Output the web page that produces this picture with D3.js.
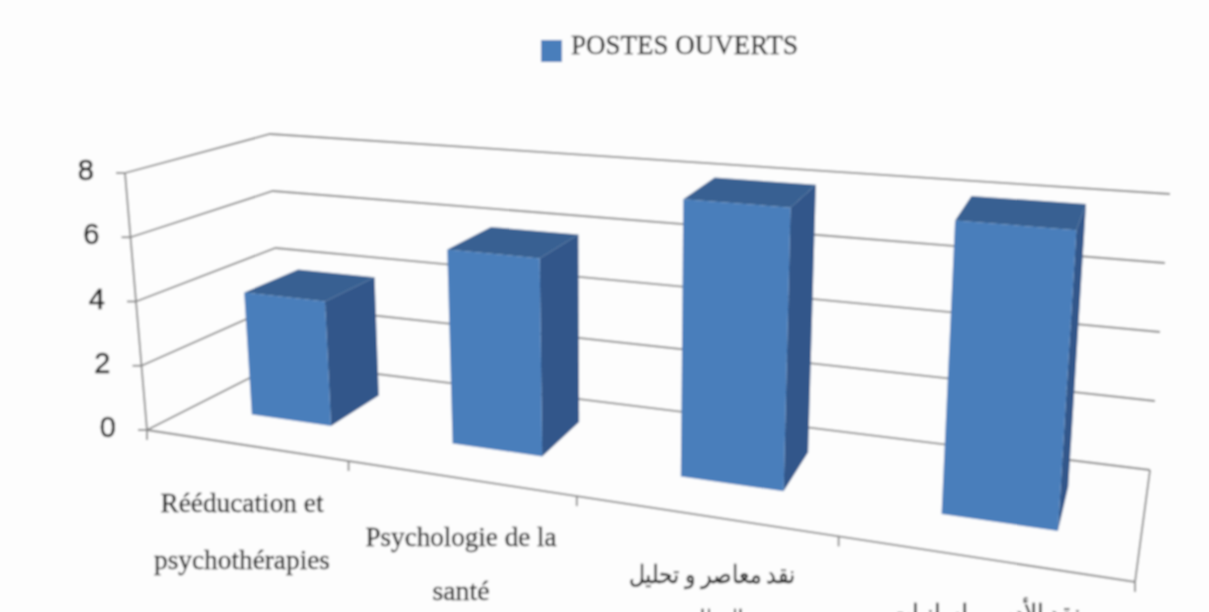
<!DOCTYPE html>
<html><head><meta charset="utf-8">
<script src="https://cdn.jsdelivr.net/npm/d3@7"></script>
<style>html,body{margin:0;padding:0;background:#fdfdfd;overflow:hidden}svg{display:block}</style>
</head><body><svg id="c" width="1209" height="612"></svg>
<script>
const categories = ["Rééducation et psychothérapies","Psychologie de la santé","نقد معاصر و تحليل الخطاب","نقد الأدب و لسانيات"];
const seriesName = "POSTES OUVERTS";
const values = [3.9,5.9,8,8];
const yTicks = [0,2,4,6,8];
const catBoundaries = [0,.204,.435,.70,1];

// box corners: [u, v, z] unit cube => screen
const corner = {
  fl0:[147,430], fr0:[1135,582], bl0:[281,362], br0:[1150,470],
  fl1:[125,173], fr1:[1158,260], bl1:[270,134], br1:[1170,194]
};
const lerp=(a,b,t)=>a+(b-a)*t;
function proj(u,v,z){
  return [0,1].map(k=>{
    const f0=lerp(corner.fl0[k],corner.fr0[k],u), b0=lerp(corner.bl0[k],corner.br0[k],u);
    const f1=lerp(corner.fl1[k],corner.fr1[k],u), b1=lerp(corner.bl1[k],corner.br1[k],u);
    return lerp(lerp(f0,b0,z),lerp(f1,b1,z),v);
  });
}
const xS=d3.scaleLinear().domain(d3.range(5)).range(catBoundaries);
const yS=d3.scaleLinear().domain([0,8]).range([0,1]);
const svg=d3.select("#c");
const defs=svg.append("defs");
defs.append("filter").attr("id","b").attr("x","-5%").attr("y","-5%").attr("width","110%").attr("height","110%")
  .append("feGaussianBlur").attr("stdDeviation",0.95);
const g=svg.append("g").attr("filter","url(#b)");
g.append("rect").attr("width",1209).attr("height",612).attr("fill","#fdfdfd");
const line=d3.line();
const grid="#858585";
const sw=1.8;
// gridlines on side + back wall
yTicks.forEach(t=>{
  const v=yS(t);
  g.append("path").attr("d",line([proj(0,v,0),proj(0,v,1),proj(1,v,1)])).attr("fill","none").attr("stroke",grid).attr("stroke-width",sw);
  const a=proj(0,v,0);
  g.append("path").attr("d",line([[a[0]-9,a[1]],a])).attr("stroke",grid).attr("stroke-width",sw);
  g.append("text").attr("x",a[0]-31).attr("y",a[1]+7).attr("text-anchor","end")
    .attr("font-family","Liberation Sans").attr("font-size",29).attr("fill","#222").attr("stroke","#222").attr("stroke-width",.5).text(t);
});
// axes
g.append("path").attr("d",line([proj(0,0,0),proj(0,1,0)])).attr("stroke",grid).attr("stroke-width",sw);
g.append("path").attr("d",line([proj(0,0,0),proj(1,0,0),proj(1,0,1)])).attr("fill","none").attr("stroke",grid).attr("stroke-width",sw);
d3.range(5).forEach(i=>{
  const a=proj(xS(i),0,0);
  g.append("path").attr("d",line([a,[a[0]+0,a[1]+10]])).attr("stroke",grid).attr("stroke-width",sw);
});
// bars
const zF=.35,zB=.76,fA=.3,fB=.71;
const faces=g.selectAll("g.bar").data(values).join("g").attr("class","bar");
faces.each(function(d,i){
  const u0=xS(i+fA),u1=xS(i+fB),v=yS(d);
  const s=d3.select(this);
  const poly=(pts,c)=>s.append("path").attr("d",line(pts)+"Z").attr("fill",c);
  poly([proj(u1,0,zF),proj(u1,0,zB),proj(u1,v,zB),proj(u1,v,zF)],"#33578a");
  poly([proj(u0,v,zF),proj(u1,v,zF),proj(u1,v,zB),proj(u0,v,zB)],"#376092");
  poly([proj(u0,0,zF),proj(u1,0,zF),proj(u1,v,zF),proj(u0,v,zF)],"#4a7ebb");
});
// legend
g.append("rect").attr("x",541).attr("y",40).attr("width",21).attr("height",22).attr("fill","#4a7ebb");
g.append("text").attr("x",571).attr("y",54).attr("font-family","Liberation Serif").attr("font-size",27)
  .attr("textLength",227).attr("lengthAdjust","spacingAndGlyphs").attr("fill","#222").attr("stroke","#222").attr("stroke-width",.35).text(seriesName);
// category labels
const labelLines=[
  [["Rééducation et",242,512,163],["psychothérapies",242,569,176]],
  [["Psychologie de la",461,546,191],["santé",461,600,57]],
  [["نقد معاصر و تحليل",712,583,167],["الخطاب",713,628,60]],
  [["نقد الأدب و لسانيات",985,622,190]]
];
const fs=[27,27,25,25];
labelLines.forEach((ls,i)=>ls.forEach(([t,x,y,w])=>{
  g.append("text").attr("x",x).attr("y",y).attr("text-anchor","middle")
   .attr("font-family","Liberation Serif, Noto Sans").attr("font-size",fs[i]).attr("fill","#222")
   .attr("stroke","#222").attr("stroke-width",.35)
   .attr("textLength",w).attr("lengthAdjust","spacingAndGlyphs").text(t);
}));
</script></body></html>
